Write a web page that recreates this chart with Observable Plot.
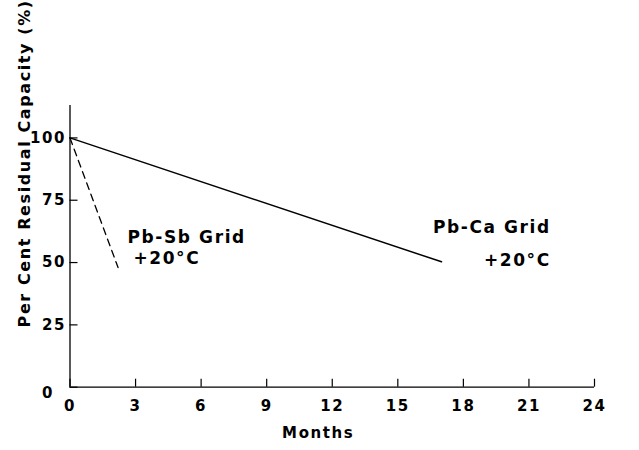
<!DOCTYPE html>
<html>
<head>
<meta charset="utf-8">
<script src="https://cdn.jsdelivr.net/npm/d3@7"></script>
<script src="https://cdn.jsdelivr.net/npm/@observablehq/plot@0.6"></script>
<style>
  html, body { margin: 0; padding: 0; background: #fff; }
  #chart svg text { letter-spacing: 1.6px; }
</style>
</head>
<body>
<div id="chart"></div>
<script>
// ---- data ----
const xTicks = [0, 3, 6, 9, 12, 15, 18, 21, 24];
const yTicks = [0, 25, 50, 75, 100];

const pbCaMonths = [0, 17];
const pbCaCapacity = [100, 50.3];

const pbSbMonths = [0, 2.2];
const pbSbCapacity = [100, 48];

const xLabel = "Months";
const yLabel = "Per Cent Residual Capacity (%)";

// annotations (in data units: months, %)
const sbText  = ["Pb-Sb Grid", "+20°C"];
const sbMonth = [2.63, 2.9];
const sbPct   = [60, 51.5];
const caText  = ["Pb-Ca Grid", "+20°C"];
const caMonth = [22.0, 22.0];
const caPct   = [64, 51];

// ---- build tables ----
const pbCa = pbCaMonths.map((m, i) => ({month: m, pct: pbCaCapacity[i]}));
const pbSb = pbSbMonths.map((m, i) => ({month: m, pct: pbSbCapacity[i]}));
const sbAnnos = sbText.map((t, i) => ({text: t, month: sbMonth[i], pct: sbPct[i]}));
const caAnnos = caText.map((t, i) => ({text: t, month: caMonth[i], pct: caPct[i]}));

const font = "DejaVu Sans";

const chart = Plot.plot({
  width: 639,
  height: 450,
  marginLeft: 69.5,
  marginRight: 45,
  marginTop: 105,
  marginBottom: 63.3,
  style: {fontFamily: font, fontWeight: "bold", background: "#fff", color: "#000"},
  x: {domain: [0, 24], axis: null},
  y: {domain: [0, 113], axis: null},
  marks: [
    // axis lines
    Plot.ruleY([0], {stroke: "#000", strokeWidth: 1.3}),
    Plot.ruleX([0], {stroke: "#000", strokeWidth: 1.3}),
    // inward ticks
    Plot.ruleX(xTicks, {x: d => d, y1: 0, y2: 0, insetTop: -8, stroke: "#000", strokeWidth: 1.2}),
    Plot.ruleY(yTicks, {y: d => d, x1: 0, x2: 0, insetRight: -8, stroke: "#000", strokeWidth: 1.2}),
    // tick labels
    Plot.text(xTicks, {x: d => d, y: 0, dy: 19, text: d => String(d), fontSize: 15, fill: "#000"}),
    Plot.text(yTicks.filter(d => d > 0), {x: 0, y: d => d, dx: -4, text: d => String(d), textAnchor: "end", fontSize: 15, fill: "#000"}),
    Plot.text(yTicks.filter(d => d === 0), {x: 0, y: d => d, dx: -16, dy: 6, text: d => String(d), textAnchor: "end", fontSize: 15, fill: "#000"}),
    // axis titles
    Plot.text([xLabel], {frameAnchor: "bottom", textAnchor: "middle", lineAnchor: "middle", dx: -14, dy: 46, fontSize: 15, fill: "#000"}),
    Plot.text([yLabel], {frameAnchor: "left", textAnchor: "middle", lineAnchor: "middle", rotate: -90, dx: -45, dy: -83, fontSize: 16, fill: "#000"}),
    // series
    Plot.line(pbCa, {x: "month", y: "pct", stroke: "#000", strokeWidth: 1.5}),
    Plot.line(pbSb, {x: "month", y: "pct", stroke: "#000", strokeWidth: 1.3, strokeDasharray: "7,5"}),
    // annotations
    Plot.text(sbAnnos, {x: "month", y: "pct", text: "text", textAnchor: "start", fontSize: 17, fill: "#000"}),
    Plot.text(caAnnos, {x: "month", y: "pct", text: "text", textAnchor: "end", fontSize: 17, fill: "#000"})
  ]
});

document.getElementById("chart").appendChild(chart);
</script>
</body>
</html>
